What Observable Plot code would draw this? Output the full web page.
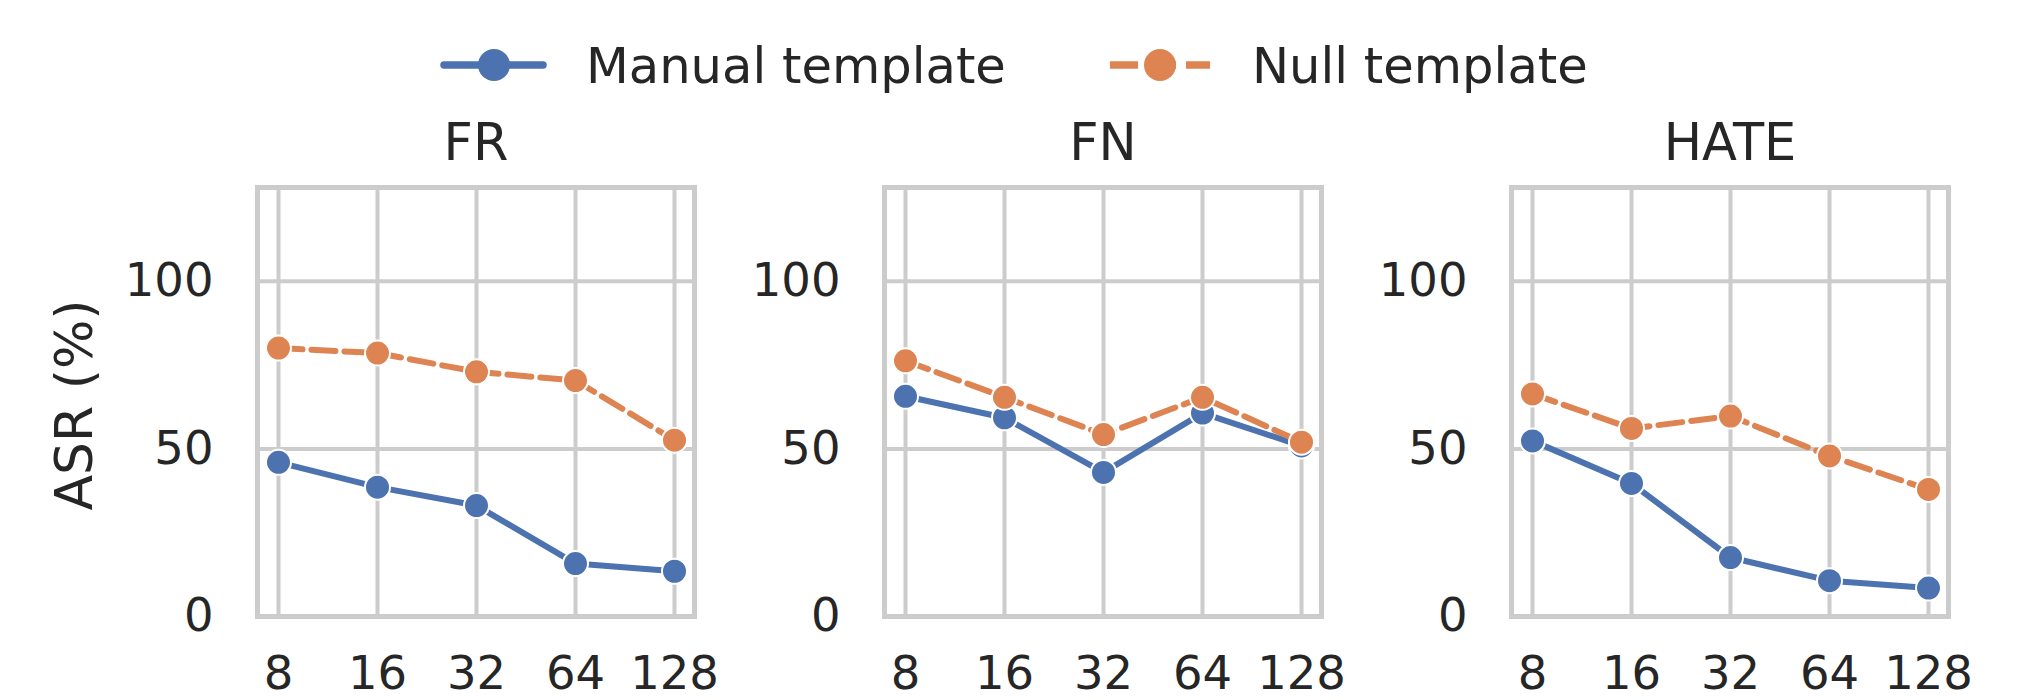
<!DOCTYPE html>
<html><head><meta charset="utf-8">
<script src="https://cdn.jsdelivr.net/npm/d3@7"></script>
<script src="https://cdn.jsdelivr.net/npm/@observablehq/plot@0.6"></script>
<style>
html,body{margin:0;padding:0;background:#fff;}
#wrap{position:relative;width:2017px;height:700px;overflow:hidden;font-family:"DejaVu Sans";background:#fff;}
#wrap > svg{position:absolute;top:0;}
</style></head><body><div id="wrap"></div>
<script>
// ---- data ----
const xValues = [8, 16, 32, 64, 128];
const panelNames = ["FR", "FN", "HATE"];
const seriesNames = ["Manual template", "Null template"];
const seriesColors = ["#4c72b0", "#dd8452"];
const seriesDashes = [null, "24,9"];
const yTicks = [0, 50, 100];
const yLabel = "ASR (%)";

const frManual   = [46.0, 38.6, 33.1, 15.8, 13.5];
const frNull     = [80.1, 78.6, 73.0, 70.4, 52.6];
const fnManual   = [65.7, 59.3, 43.0, 60.7, 50.9];
const fnNull     = [76.3, 65.4, 54.3, 65.4, 52.0];
const hateManual = [52.4, 39.7, 17.6, 10.7, 8.5];
const hateNull   = [66.4, 56.1, 59.8, 47.9, 37.9];

const panelSeries = [[frManual, frNull], [fnManual, fnNull], [hateManual, hateNull]];

// ---- layout ----
const wrap = document.getElementById("wrap");
const frameLefts = [257, 884, 1511];
const frameW = 437;
const mLeft = 257, mRight = 40;
const fontFam = "DejaVu Sans";
const ink = "#262626";
const gridCol = "#cccccc";

panelNames.forEach((name, i) => {
  const marks = [
    Plot.gridX({stroke: gridCol, strokeOpacity: 1, strokeWidth: 4}),
    Plot.gridY(yTicks, {stroke: gridCol, strokeOpacity: 1, strokeWidth: 4}),
    Plot.frame({stroke: gridCol, strokeWidth: 5}),
    Plot.axisX({tickSize: 0, tickPadding: 39, fontSize: 46.5, label: null}),
    Plot.axisY({ticks: yTicks, tickSize: 0, tickPadding: 44, fontSize: 46.5, label: null}),
    Plot.text([name], {text: d => d, frameAnchor: "top", dy: -27.5, lineAnchor: "bottom", fontSize: 51, fill: ink})
  ];
  if (i === 0) {
    marks.push(Plot.text([yLabel], {text: d => d, frameAnchor: "left", textAnchor: "middle", dx: -182, dy: 3, rotate: -90, fontSize: 52, fill: ink}));
  }
  panelSeries[i].forEach((vals, s) => {
    const rows = xValues.map((x, j) => ({x, y: vals[j]}));
    marks.push(Plot.line(rows, {x: "x", y: "y", stroke: seriesColors[s], strokeWidth: 6,
      strokeDasharray: seriesDashes[s] || undefined, strokeLinejoin: "round"}));
    marks.push(Plot.dot(rows, {x: "x", y: "y", r: 12.5, fill: seriesColors[s], stroke: "white", strokeWidth: 2}));
  });
  const svg = Plot.plot({
    width: mLeft + frameW + mRight,
    height: 700,
    marginLeft: mLeft, marginRight: mRight, marginTop: 187, marginBottom: 84,
    x: {type: "point", domain: xValues, padding: 0.2},
    y: {domain: [0, 128]},
    style: {background: "transparent", overflow: "visible", fontFamily: fontFam, color: ink},
    marks
  });
  svg.style.left = (frameLefts[i] - mLeft) + "px";
  svg.style.maxWidth = "none";
  wrap.appendChild(svg);
});

// ---- legend ----
const handleX = [444, 1110];
const textX = [586, 1252];
const legY = 65;
const leg = d3.select(wrap).append("svg")
  .attr("width", 2017).attr("height", 120)
  .style("left", "0px").style("top", "0px");
seriesNames.forEach((nm, s) => {
  const g = leg.append("g");
  g.append("line")
    .attr("x1", handleX[s]).attr("x2", handleX[s] + (s === 0 ? 99 : 100))
    .attr("y1", legY).attr("y2", legY)
    .attr("stroke", seriesColors[s]).attr("stroke-width", 7.5)
    .attr("stroke-linecap", s === 0 ? "round" : "butt")
    .attr("stroke-dasharray", s === 0 ? null : "28,10");
  g.append("circle")
    .attr("cx", handleX[s] + 50).attr("cy", legY).attr("r", 16)
    .attr("fill", seriesColors[s]);
  g.append("text")
    .attr("x", textX[s]).attr("y", 83)
    .attr("font-family", fontFam).attr("font-size", 49.6).attr("fill", ink)
    .text(nm);
});
</script></body></html>
